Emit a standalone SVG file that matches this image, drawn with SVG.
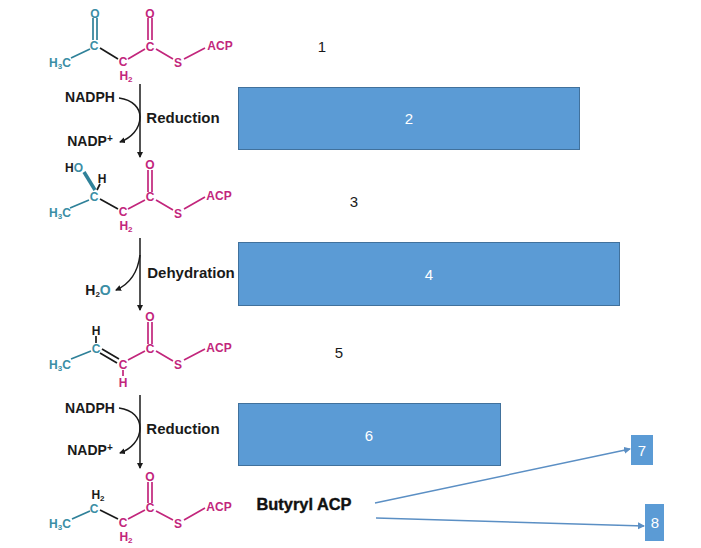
<svg xmlns="http://www.w3.org/2000/svg" width="701" height="548" viewBox="0 0 701 548">
<style>
text{font-family:"Liberation Sans",Arial,sans-serif}
.a{font-size:12px;font-weight:bold;text-anchor:middle}
.t{fill:#3b8ea5}.m{fill:#c2267c}.k{fill:#1a1a1a}
.sub{font-size:8px}
.l{font-size:14px;font-weight:bold;fill:#1a1a1a;text-anchor:middle}
.w{font-size:15px;font-weight:bold;fill:#1a1a1a;text-anchor:middle}
.n{font-size:15px;fill:#fff;text-anchor:middle}
.p{font-size:15px;fill:#1a1a1a;text-anchor:middle}
.b{font-size:17px;font-weight:bold;fill:#111;stroke:#111;stroke-width:.4;text-anchor:middle}
.bt{fill:none;stroke:#2f8199;stroke-width:1.7}
.bm{fill:none;stroke:#c2267c;stroke-width:1.7}
.bk{fill:none;stroke:#1a1a1a;stroke-width:1.7}
.box{fill:#5b9bd5;stroke:#41719c;stroke-width:1}
.sq{fill:#5b9bd5}
.ar{fill:none;stroke:#1a1a1a;stroke-width:1.5}
.cn{fill:none;stroke:#5b8fc4;stroke-width:1.5}
</style>
<defs>
<marker id="ka" markerWidth="7" markerHeight="7" refX="5" refY="3" orient="auto" markerUnits="userSpaceOnUse"><path d="M0 0L6 3L0 6Z" fill="#1a1a1a"/></marker>
<marker id="ba" markerWidth="8" markerHeight="8" refX="6" refY="3.500" orient="auto" markerUnits="userSpaceOnUse"><path d="M0 0L7 3.500L0 7Z" fill="#5b8fc4"/></marker>
</defs>

<g id="molecule-1">
<path class="bt" d="M93 18V40M97 18V40M71 58L90 49"/>
<path class="bk" d="M100 48L118 59"/>
<path class="bm" d="M128 59L145 49M148 18V40M152 18V40M156 49L173 59M184 59L205 48"/>
<text class="a t" x="95" y="18">O</text><text class="a t" x="94" y="50">C</text>
<text class="a t" x="60" y="67">H<tspan class="sub" dy="2">3</tspan><tspan dy="-2">C</tspan></text>
<text class="a m" x="123" y="66">C</text><text class="a m" x="126" y="80">H<tspan class="sub" dy="2">2</tspan></text>
<text class="a m" x="150" y="18">O</text><text class="a m" x="150" y="51">C</text>
<text class="a m" x="178" y="67">S</text><text class="a m" x="220" y="50">ACP</text>
</g>
<g id="molecule-3">
<path class="bt" d="M70 208L89 200"/>
<path class="bt" d="M84 172L95 190" style="stroke-width:3.500"/>
<path class="bk" d="M97 190L100 184M100 199L118 209"/>
<path class="bm" d="M128 209L145 200M148 170V192M152 170V192M156 200L173 210M184 209L205 197"/>
<text class="a k" x="74" y="172">H<tspan class="t">O</tspan></text>
<text class="a k" x="102" y="183">H</text>
<text class="a t" x="94" y="201">C</text>
<text class="a t" x="60" y="217">H<tspan class="sub" dy="2">3</tspan><tspan dy="-2">C</tspan></text>
<text class="a m" x="123" y="216">C</text><text class="a m" x="126" y="230">H<tspan class="sub" dy="2">2</tspan></text>
<text class="a m" x="150" y="169">O</text><text class="a m" x="150" y="201">C</text>
<text class="a m" x="178" y="218">S</text><text class="a m" x="219" y="200">ACP</text>
</g>
<g id="molecule-5">
<path class="bt" d="M71 359L91 351"/>
<path class="bk" d="M96 336V343M102 349L119 359M100 353L117 363"/>
<path class="bm" d="M123 370V376M128 360L145 351M148 322V344M152 322V344M156 351L173 361M184 360L205 349"/>
<text class="k a" x="96" y="335">H</text>
<text class="a t" x="96" y="353">C</text>
<text class="a t" x="60" y="369">H<tspan class="sub" dy="2">3</tspan><tspan dy="-2">C</tspan></text>
<text class="a m" x="123" y="369">C</text><text class="a m" x="123" y="387">H</text>
<text class="a m" x="150" y="321">O</text><text class="a m" x="150" y="353">C</text>
<text class="a m" x="178" y="369">S</text><text class="a m" x="219" y="352">ACP</text>
</g>
<g id="molecule-butyryl">
<path class="bt" d="M72 519L90 511"/>
<path class="bk" d="M100 510L118 519"/>
<path class="bm" d="M128 519L145 510M148 482V503M152 482V503M156 511L173 520M184 520L205 508"/>
<text class="a k" x="98" y="499">H<tspan class="sub" dy="2">2</tspan></text>
<text class="a t" x="94" y="513">C</text>
<text class="a t" x="60" y="528">H<tspan class="sub" dy="2">3</tspan><tspan dy="-2">C</tspan></text>
<text class="a m" x="123" y="527">C</text><text class="a m" x="126" y="541">H<tspan class="sub" dy="2">2</tspan></text>
<text class="a m" x="150" y="481">O</text><text class="a m" x="150" y="512">C</text>
<text class="a m" x="178" y="528">S</text><text class="a m" x="219" y="511">ACP</text>
<text class="b" x="304" y="510" textLength="95" lengthAdjust="spacingAndGlyphs">Butyryl ACP</text>
</g>

<g id="connectors">
<path class="ar" d="M140 84V157" marker-end="url(#ka)"/>
<path class="ar" d="M119 98C133 100 140 108 140 117C140 129 131 138 120 142" marker-end="url(#ka)"/>
<path class="ar" d="M140 238V310" marker-end="url(#ka)"/>
<path class="ar" d="M140 255C138 271 130 284 116 290" marker-end="url(#ka)"/>
<path class="ar" d="M140 395V468" marker-end="url(#ka)"/>
<path class="ar" d="M119 408C133 410 140 418 140 428C140 440 131 449 120 453" marker-end="url(#ka)"/>
<path class="cn" d="M375 503L630 449" marker-end="url(#ba)"/>
<path class="cn" d="M376 518L644 526" marker-end="url(#ba)"/>
</g>

<g id="reagents">
<text class="l" x="90" y="102">NADPH</text>
<text class="l" x="90" y="146">NADP<tspan dy="-4" font-size="10">+</tspan></text>
<text class="w" x="183" y="123">Reduction</text>
<text class="w" x="191" y="278">Dehydration</text>
<text class="l" x="98" y="295">H<tspan class="sub" dy="2">2</tspan><tspan class="t" dy="-2">O</tspan></text>
<text class="l" x="90" y="413">NADPH</text>
<text class="l" x="90" y="455">NADP<tspan dy="-4" font-size="10">+</tspan></text>
<text class="w" x="183" y="434">Reduction</text>
</g>

<g id="node-1"><text class="p" x="322" y="52">1</text></g>
<g id="node-2"><rect class="box" x="238.500" y="87.500" width="341" height="62"/><text class="n" x="409" y="124">2</text></g>
<g id="node-3"><text class="p" x="354" y="207">3</text></g>
<g id="node-4"><rect class="box" x="238.500" y="242.500" width="381" height="63"/><text class="n" x="429" y="280">4</text></g>
<g id="node-5"><text class="p" x="339" y="358">5</text></g>
<g id="node-6"><rect class="box" x="238.500" y="403.500" width="262" height="62"/><text class="n" x="369" y="441">6</text></g>
<g id="node-7"><rect class="sq" x="631" y="435" width="22" height="30"/><text class="n" x="642" y="456">7</text></g>
<g id="node-8"><rect class="sq" x="645" y="504" width="19" height="37"/><text class="n" x="655" y="528">8</text></g>
</svg>
